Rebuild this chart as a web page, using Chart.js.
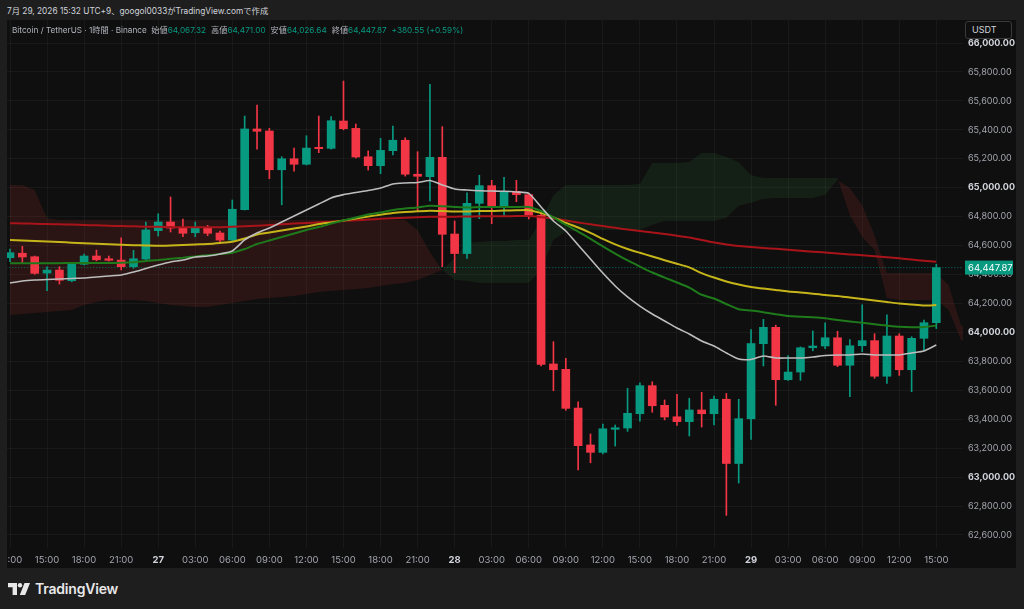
<!DOCTYPE html>
<html>
<head>
<meta charset="utf-8">
<script src="https://cdn.jsdelivr.net/npm/chart.js@4/dist/chart.umd.min.js"></script>
<style>
  body { margin: 0; width: 1024px; height: 609px; background: #1e1e1e; overflow: hidden;
         font-family: Inter, "Noto Sans CJK JP", sans-serif; }
  #title { position: absolute; left: 7px; top: 4px; font-size: 8.3px; color: #d1d4dc; }
  #panel { position: absolute; left: 7px; top: 20px; width: 1009px; height: 548px; background: #0f0f0f; }
  #panel canvas { position: absolute; left: 0; top: 0; }
  #legend { position: absolute; left: 5px; top: 3px; font-size: 8.2px; color: #b2b5be; white-space: nowrap; }
  #legend .v { color: #089981; margin-right: 5px; }
  #unit { position: absolute; left: 958px; top: 1px; width: 47px; height: 18px; box-sizing: border-box;
          border: 1px solid #3a3a3a; border-radius: 3px; background: #0f0f0f; color: #d1d4dc;
          font-size: 9px; line-height: 16px; padding-left: 6px; }
  #logo { position: absolute; left: 8px; top: 580px; display: flex; align-items: center; gap: 5px;
          color: #e8e8e8; font-size: 14px; font-weight: 600; letter-spacing: -0.2px; }
</style>
</head>
<body>
<div id="title">7月 29, 2026 15:32 UTC+9、googol0033がTradingView.comで作成</div>
<div id="panel">
  <canvas id="myChart" width="1009" height="548"></canvas>
  <div id="legend">Bitcoin / TetherUS · 1時間 · Binance&nbsp;&nbsp;始値<span class="v">64,067.32</span>高値<span class="v">64,471.00</span>安値<span class="v">64,026.64</span>終値<span class="v">64,447.87</span><span class="v">+380.55 (+0.59%)</span></div>
  <div id="unit">USDT</div>
</div>
<div id="logo">
  <svg width="22" height="12" viewBox="0 0 22 12"><path d="M0 0h9v12H4.6V4.2H0z" fill="#e8e8e8"/><circle cx="12" cy="2.2" r="2.2" fill="#e8e8e8"/><path d="M16.5 0H22l-4.8 12h-5.4z" fill="#e8e8e8"/></svg>
  <span>TradingView</span>
</div>
<script>
  // hourly candles, index 0 = 26日 12:00, last = 29日 15:00
  const opens = [
    64516, 64547, 64523, 64410, 64431, 64357, 64471, 64528, 64509, 64500,
    64454, 64507, 64703, 64763, 64724, 64689, 64724, 64687, 64638, 64848,
    65406, 65392, 65124, 65200, 65162, 65279, 65272, 65461, 65410, 65214,
    65152, 65256, 65328, 65093, 65076, 65210, 64680, 64545, 64892, 65014,
    64867, 64975, 64952, 64809, 63782, 63745, 63477, 63222, 63171, 63330,
    63339, 63438, 63632, 63496, 63417, 63383, 63464, 63438, 63538, 63094,
    63403, 63922, 64035, 63673, 63726, 63894, 63906, 63963, 63773, 63908,
    63943, 63697, 63975, 63742, 63959, 64067.32
  ];
  const highs = [
    64576, 64595, 64528, 64454, 64454, 64484, 64542, 64569, 64528, 64654,
    64567, 64763, 64820, 64936, 64784, 64763, 64740, 64701, 64915, 65495,
    65571, 65410, 65214, 65274, 65359, 65495, 65491, 65737, 65440, 65254,
    65341, 65426, 65345, 65249, 65715, 65422, 64770, 64965, 65086, 65051,
    65072, 65051, 64963, 64818, 63936, 63821, 63521, 63298, 63367, 63360,
    63614, 63652, 63659, 63533, 63572, 63545, 63586, 63560, 63578, 63538,
    64019, 64090, 64050, 63839, 63900, 64010, 64067, 64008, 63950, 64191,
    63991, 64122, 63991, 63970, 64086, 64471
  ];
  const lows = [
    64489, 64484, 64402, 64288, 64334, 64350, 64466, 64495, 64493, 64431,
    64443, 64502, 64666, 64694, 64661, 64661, 64668, 64625, 64634, 64846,
    65267, 65062, 64882, 65115, 65157, 65242, 65267, 65400, 65205, 65122,
    65097, 65226, 65080, 64834, 64908, 64454, 64413, 64512, 64786, 64751,
    64809, 64903, 64784, 63768, 63597, 63462, 63049, 63099, 63160, 63215,
    63316, 63386, 63448, 63395, 63358, 63284, 63346, 63360, 62735, 62959,
    63261, 63768, 63496, 63669, 63669, 63873, 63887, 63763, 63556, 63867,
    63683, 63648, 63703, 63590, 63873, 64026.64
  ];
  const closes = [
    64551, 64521, 64408, 64431, 64360, 64473, 64528, 64502, 64498, 64454,
    64509, 64708, 64763, 64721, 64685, 64724, 64685, 64638, 64851, 65406,
    65390, 65124, 65200, 65162, 65274, 65270, 65463, 65408, 65212, 65152,
    65258, 65328, 65093, 65079, 65210, 64678, 64545, 64892, 65014, 64867,
    64975, 64952, 64809, 63779, 63742, 63475, 63217, 63171, 63334, 63341,
    63441, 63632, 63493, 63415, 63383, 63464, 63438, 63538, 63094, 63404,
    63923, 64035, 63673, 63726, 63894, 63906, 63963, 63773, 63908, 63943,
    63697, 63975, 63742, 63959, 64067, 64447.87
  ];

  // moving averages, one value per candle
  const maWhite = [
    64341, 64355, 64362, 64366, 64369, 64373, 64376, 64383, 64390, 64397,
    64417, 64442, 64466, 64487, 64500, 64521, 64528, 64542, 64563, 64639,
    64687, 64722, 64763, 64804, 64846, 64887, 64929, 64952, 64967, 64981,
    64998, 65026, 65033, 65036, 65050, 65019, 64991, 64984, 64979, 64977,
    64975, 64970, 64961, 64867, 64770, 64701, 64604, 64507, 64410, 64321,
    64245, 64182, 64127, 64079, 64030, 63989, 63941, 63906, 63858, 63816,
    63813, 63837, 63823, 63823, 63823, 63830, 63840, 63844, 63844, 63851,
    63844, 63844, 63844, 63858, 63871, 63913
  ];
  const maGreen = [
    64478, 64478, 64478, 64478, 64478, 64480, 64480, 64480, 64480, 64481,
    64484, 64493, 64500, 64509, 64516, 64525, 64533, 64542, 64551, 64576,
    64611, 64635, 64659, 64684, 64708, 64728, 64753, 64773, 64794, 64815,
    64829, 64846, 64856, 64863, 64875, 64872, 64867, 64863, 64867, 64867,
    64867, 64867, 64867, 64839, 64795, 64744, 64697, 64647, 64595, 64544,
    64497, 64455, 64414, 64379, 64345, 64310, 64260, 64234, 64196, 64160,
    64151, 64140, 64126, 64113, 64109, 64104, 64097, 64086, 64076, 64066,
    64056, 64047, 64039, 64036, 64037, 64048
  ];
  const maYellow = [
    64639, 64635, 64632, 64628, 64625, 64620, 64616, 64613, 64610, 64606,
    64603, 64601, 64599, 64601, 64604, 64608, 64611, 64618, 64627, 64649,
    64677, 64690, 64704, 64718, 64732, 64749, 64760, 64773, 64787, 64801,
    64813, 64825, 64832, 64837, 64841, 64839, 64836, 64836, 64839, 64839,
    64842, 64844, 64845, 64825, 64795, 64757, 64725, 64688, 64646, 64608,
    64576, 64550, 64525, 64499, 64475, 64449, 64410, 64379, 64352, 64331,
    64314, 64303, 64293, 64283, 64276, 64267, 64258, 64252, 64241, 64231,
    64220, 64210, 64200, 64193, 64186, 64189
  ];
  const maRed = [
    64754, 64753, 64751, 64749, 64747, 64745, 64742, 64740, 64737, 64735,
    64733, 64731, 64730, 64728, 64727, 64726, 64726, 64727, 64730, 64733,
    64737, 64742, 64747, 64752, 64756, 64761, 64765, 64770, 64775, 64780,
    64785, 64789, 64793, 64796, 64799, 64800, 64800, 64801, 64802, 64802,
    64803, 64804, 64804, 64796, 64787, 64773, 64760, 64747, 64735, 64723,
    64711, 64701, 64690, 64680, 64668, 64656, 64639, 64621, 64608, 64597,
    64590, 64583, 64578, 64571, 64565, 64558, 64552, 64545, 64539, 64533,
    64526, 64519, 64512, 64503, 64495, 64489
  ];

  // ichimoku cloud, shifted forward so it runs past the last candle
  const spanA = [
    64120, 64127, 64134, 64141, 64148, 64155, 64189, 64210, 64224, 64224,
    64224, 64217, 64203, 64189, 64182, 64176, 64176, 64189, 64203, 64217,
    64231, 64238, 64245, 64252, 64265, 64279, 64286, 64293, 64300, 64307,
    64321, 64334, 64341, 64362, 64397, 64431, 64514, 64618, 64625, 64632,
    64632, 64639, 64639, 64777, 64950, 65019, 65019, 65019, 65019, 65019,
    65019, 65026, 65171, 65171, 65171, 65178, 65240, 65240, 65212, 65178,
    65088, 65067, 65067, 65067, 65067, 65067, 65067, 65067, 64811, 64659,
    64569, 64238, 64224, 64224, 64224, 64224, 64155, 63947, 63913
  ];
  const spanB = [
    65019, 65019, 64984, 64791, 64777, 64777, 64777, 64777, 64777, 64777,
    64777, 64777, 64777, 64777, 64777, 64777, 64777, 64777, 64777, 64777,
    64777, 64777, 64777, 64777, 64777, 64777, 64777, 64777, 64777, 64777,
    64777, 64777, 64777, 64708, 64556, 64431, 64362, 64355, 64341, 64341,
    64341, 64341, 64341, 64431, 64639, 64694, 64708, 64708, 64708, 64708,
    64708, 64708, 64742, 64770, 64770, 64770, 64770, 64770, 64791, 64874,
    64894, 64922, 64929, 64929, 64929, 64929, 64950, 65053, 64998, 64880,
    64673, 64411, 64411, 64411, 64411, 64411, 64328, 64051, 64017
  ];

  // one label every 3 candles
  const xTickLabels = [
    '12:00', '15:00', '18:00', '21:00', '27', '03:00', '06:00', '09:00', '12:00',
    '15:00', '18:00', '21:00', '28', '03:00', '06:00', '09:00', '12:00', '15:00',
    '18:00', '21:00', '29', '03:00', '06:00', '09:00', '12:00', '15:00'
  ];
  const yTicks = [
    62600, 62800, 63000, 63200, 63400, 63600, 63800, 64000, 64200,
    64400, 64600, 64800, 65000, 65200, 65400, 65600, 65800, 66000
  ];

  const UP = '#089981';
  const DOWN = '#f23645';
  const candleColor = closes.map((c, i) => c >= opens[i] ? UP : DOWN);
  const pts = arr => arr.map((v, i) => ({ x: i, y: v }));
  const lastClose = closes[closes.length - 1];
  const fmt = v => v.toLocaleString('en-US', { minimumFractionDigits: 2, maximumFractionDigits: 2 });

  // is the x tick a day label (bold) ?
  const isDay = ctx => ctx.tick != null && !String(xTickLabels[Math.round(ctx.tick.value / 3)]).includes(':');
  const isThousand = ctx => ctx.tick != null && ctx.tick.value % 1000 === 0;

  const priceTag = {
    id: 'priceTag',
    afterDraw(chart) {
      const { ctx, chartArea, scales } = chart;
      const y = scales.y.getPixelForValue(lastClose);
      ctx.save();
      ctx.fillStyle = UP;
      ctx.fillRect(chartArea.right + 2, y - 7, 48, 14);
      ctx.fillStyle = '#ffffff';
      ctx.font = '9.5px Inter';
      ctx.textBaseline = 'middle';
      ctx.fillText(fmt(lastClose), chartArea.right + 5, y + 0.5);
      ctx.restore();
    }
  };

  const lineStyle = (color, width) => ({
    type: 'line', borderColor: color, borderWidth: width, pointRadius: 0, fill: false, tension: 0.2
  });

  const config = {
    type: 'bar',
    data: {
      datasets: [
        { ...lineStyle('#bdbdbd', 1.6), data: pts(maWhite), order: 0 },
        { ...lineStyle('#1f7a1c', 2), data: pts(maGreen), order: 0 },
        { ...lineStyle('#c6b51a', 2), data: pts(maYellow), order: 0 },
        { ...lineStyle('#a8141a', 2), data: pts(maRed), order: 0 },
        {
          type: 'bar', data: closes.map((c, i) => ({ x: i, y: [opens[i], c] })),
          backgroundColor: candleColor, barThickness: 8, minBarLength: 1, grouped: false, order: 1
        },
        {
          type: 'bar', data: closes.map((c, i) => ({ x: i, y: [lows[i], highs[i]] })),
          backgroundColor: candleColor, barThickness: 1, grouped: false, order: 2
        },
        {
          type: 'line', data: [{ x: -2, y: lastClose }, { x: 80, y: lastClose }],
          borderColor: 'rgba(8,153,129,0.75)', borderWidth: 1, borderDash: [1, 2],
          pointRadius: 0, fill: false, order: 3
        },
        {
          type: 'line', data: pts(spanA), borderWidth: 0, borderColor: 'transparent', pointRadius: 0,
          fill: { target: 8, above: 'rgba(67,160,71,0.11)', below: 'rgba(244,67,54,0.12)' }, order: 4
        },
        {
          type: 'line', data: pts(spanB), borderWidth: 0, borderColor: 'transparent', pointRadius: 0,
          fill: false, order: 5
        }
      ]
    },
    options: {
      responsive: false,
      animation: false,
      devicePixelRatio: 1,
      layout: { padding: 0 },
      plugins: { legend: { display: false }, tooltip: { enabled: false } },
      scales: {
        x: {
          type: 'linear', min: -0.243, max: 77.16, offset: false,
          grid: { color: 'rgba(255,255,255,0.045)', drawTicks: false, offset: false },
          border: { display: false },
          afterBuildTicks: s => { s.ticks = xTickLabels.map((_, k) => ({ value: k * 3 })); },
          afterFit: s => { s.height = 20; s.paddingLeft = 0; s.paddingRight = 0; },
          ticks: {
            autoSkip: false, maxRotation: 0, padding: 6,
            callback: v => xTickLabels[Math.round(v / 3)],
            color: ctx => isDay(ctx) ? '#d1d4dc' : '#a3a6ae',
            font: ctx => ({ family: 'Inter', size: 9.5, weight: isDay(ctx) ? 'bold' : 'normal' })
          }
        },
        y: {
          position: 'right', min: 62510, max: 66159,
          grid: { color: 'rgba(255,255,255,0.045)', drawTicks: false },
          border: { display: false },
          afterBuildTicks: s => { s.ticks = yTicks.map(v => ({ value: v })); },
          afterFit: s => { s.width = 53; s.paddingTop = 0; s.paddingBottom = 0; },
          ticks: {
            padding: 5,
            callback: v => fmt(v),
            color: ctx => isThousand(ctx) ? '#d1d4dc' : '#a3a6ae',
            font: ctx => ({ family: 'Inter', size: 9, weight: isThousand(ctx) ? 'bold' : 'normal' })
          }
        }
      }
    },
    plugins: [priceTag]
  };

  const myChart = new Chart(document.getElementById('myChart'), config);
</script>
</body>
</html>
